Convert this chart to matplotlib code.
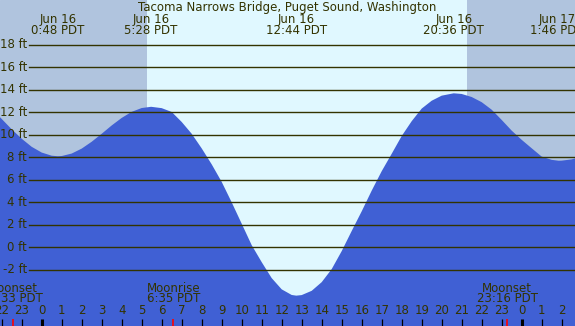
import matplotlib
matplotlib.use("Agg")
import matplotlib.pyplot as plt
import matplotlib.transforms as mtransforms

title = "Tacoma Narrows Bridge, Puget Sound, Washington"

# hours after midnight Jun 16 (PDT) and tide height in ft
tide_hours = [-2.1, -2.0, -1.5, -1.0, -0.5, 0.0, 0.5, 0.8, 1.0, 1.5, 2.0, 2.5,
              3.0, 3.5, 4.0, 4.5, 5.0, 5.47, 6.0, 6.5, 7.0, 7.5, 8.0, 8.5,
              9.0, 9.5, 10.0, 10.5, 11.0, 11.5, 12.0, 12.5, 12.73, 13.0, 13.5,
              14.0, 14.5, 15.0, 15.5, 16.0, 16.5, 17.0, 17.5, 18.0, 18.5, 19.0,
              19.5, 20.0, 20.6, 21.0, 21.5, 22.0, 22.5, 23.0, 23.5, 24.0, 24.5,
              25.0, 25.5, 25.85, 26.0, 26.5, 26.7]
tide_ft = [11.6, 11.42, 10.5, 9.66, 8.94, 8.43, 8.15, 8.1, 8.12, 8.34, 8.78, 9.39,
           10.1, 10.84, 11.51, 12.05, 12.39, 12.5, 12.38, 12.04, 11.15, 10.1, 8.8, 7.38,
           5.82, 4.0, 2.1, 0.19, -1.32, -2.74, -3.74, -4.24, -4.3, -4.25, -3.87,
           -3.1, -1.94, -0.34, 1.45, 3.2, 5.04, 6.77, 8.32, 9.9, 11.22, 12.34,
           13.04, 13.49, 13.7, 13.64, 13.37, 12.91, 12.24, 11.33, 10.38, 9.56, 8.81,
           8.07, 7.78, 7.7, 7.71, 7.82, 7.92]

# high / low tide labels along the top
extreme_dates = ["Jun 16", "Jun 16", "Jun 16", "Jun 16", "Jun 17"]
extreme_times = ["0:48", "5:28", "12:44", "20:36", "1:46"]
extreme_day_offset = [0, 0, 0, 0, 24]

# moon events along the bottom
moon_names = ["Moonset", "Moonrise", "Moonset"]
moon_times = ["22:33", "6:35", "23:16"]
moon_day_offset = [-24, 0, 0]

sunrise = 5.25
sunset = 21.25

y_ticks = [-2, 0, 2, 4, 6, 8, 10, 12, 14, 16, 18]
hour_ticks = list(range(-2, 27))


def to_hours(s, offset):
    hh, mm = s.split(":")
    return int(hh) + int(mm) / 60 + offset


night = "#b0c4de"
day = "#e0f8ff"
water = "#4060d4"
ink = "#333300"

plt.rcParams['font.family'] = 'DejaVu Sans'
fs = 8.5

fig = plt.figure(figsize=(5.75, 3.26), dpi=100)
ax = fig.add_axes([0, 0, 1, 1])
ax.set_xlim(-2.085, 26.665)
ax.set_ylim(-7, 22)
ax.axis("off")
ax.add_patch(plt.Rectangle((0, 0), 1, 1, transform=ax.transAxes,
                           color=night, zorder=0))

ax.axvspan(sunrise, sunset, color=day, zorder=1, lw=0)
ax.fill_between(tide_hours, tide_ft, -7, color=water, lw=0, zorder=2)

# horizontal level lines and labels
for v in y_ticks:
    ax.axhline(v, xmin=29 / 575, xmax=1, color=ink, lw=1.0, zorder=3)
    ax.text(27 / 575, v, f"{v} ft", transform=ax.get_yaxis_transform(),
            ha="right", va="center", fontsize=fs, color=ink, zorder=4)

bx = mtransforms.blended_transform_factory(ax.transData, ax.transAxes)

# hour tick marks and labels
for h in hour_ticks:
    thick = (h % 24 == 0)
    ax.plot([h, h], [0, 7 / 326], transform=bx, color="black",
            lw=2.2 if thick else 0.9, solid_capstyle="butt", zorder=4)
    ax.text(h, 1 - 311 / 326, str(h % 24), transform=bx, ha="center",
            va="center", fontsize=fs, color=ink, zorder=4)

# moon events
for name, tm, off in zip(moon_names, moon_times, moon_day_offset):
    h = to_hours(tm, off)
    ax.plot([h, h], [0, 7.5 / 326], transform=bx, color="#ff0000", lw=1.2,
            solid_capstyle="butt", zorder=5)
    ax.text(h, 1 - 288 / 326, name, transform=bx, ha="center", va="center",
            fontsize=fs, color=ink, zorder=4)
    ax.text(h, 1 - 299 / 326, f"{tm} PDT", transform=bx, ha="center",
            va="center", fontsize=fs, color=ink, zorder=4)

# high / low tide times
for d, tm, off in zip(extreme_dates, extreme_times, extreme_day_offset):
    h = to_hours(tm, off)
    ax.text(h, 1 - 19 / 326, d, transform=bx, ha="center", va="center",
            fontsize=fs, color=ink, zorder=4)
    ax.text(h, 1 - 31 / 326, f"{tm} PDT", transform=bx, ha="center",
            va="center", fontsize=fs, color=ink, zorder=4)

ax.text(0.5, 1 - 7 / 326, title, transform=ax.transAxes, ha="center",
        va="center", fontsize=fs, color=ink, zorder=4)

fig.savefig("out.png", dpi=100)
